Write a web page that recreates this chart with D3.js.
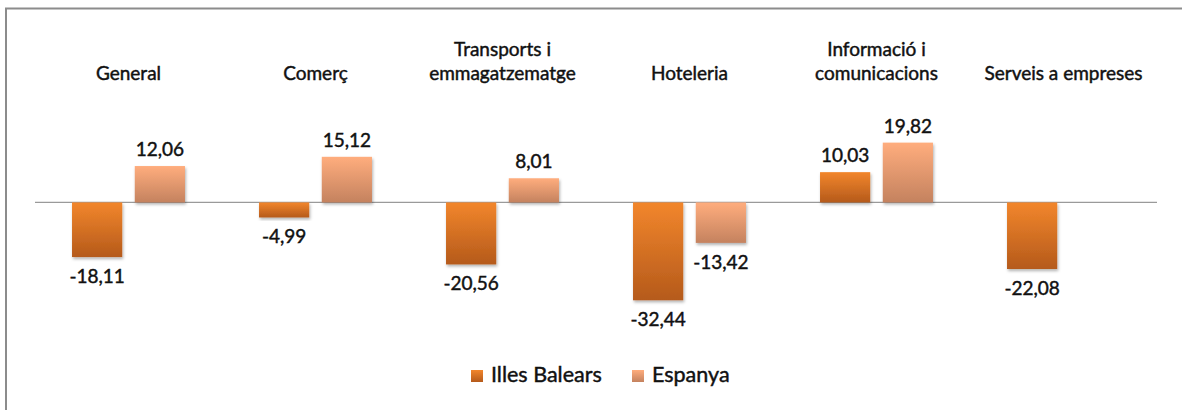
<!DOCTYPE html>
<html>
<head>
<meta charset="utf-8">
<script src="https://cdn.jsdelivr.net/npm/d3@7"></script>
<style>
  html, body { margin: 0; padding: 0; background: #fff; }
  svg { display: block; font-family: Lato, "Open Sans", sans-serif; }
  svg text { stroke: #111; stroke-width: 0.45px; }
</style>
</head>
<body>
<svg id="chart"></svg>
<script>
  // Data
  const categories = ["General", "Comerç", "Transports i emmagatzematge", "Hoteleria", "Informació i comunicacions", "Serveis a empreses"];
  const categoryLines = [["General"], ["Comerç"], ["Transports i", "emmagatzematge"], ["Hoteleria"], ["Informació i", "comunicacions"], ["Serveis a empreses"]];
  const seriesNames = ["Illes Balears", "Espanya"];
  const balearsValues = [-18.11, -4.99, -20.56, -32.44, 10.03, -22.08];
  const espanyaValues = [12.06, 15.12, 8.01, -13.42, 19.82, null];

  const width = 1182;
  const height = 410;

  const svg = d3.select("#chart")
    .attr("width", width)
    .attr("height", height);

  // gradients + shadow
  const defs = svg.append("defs");
  const gradColors = [["#f2862c", "#b55a1b"], ["#ffad7d", "#c4825f"]];
  gradColors.forEach((c, i) => {
    const g = defs.append("linearGradient")
      .attr("id", "grad" + i)
      .attr("x1", "0%").attr("x2", "0%")
      .attr("y1", "0%").attr("y2", "100%");
    g.append("stop").attr("offset", "0%").attr("stop-color", c[0]);
    g.append("stop").attr("offset", "100%").attr("stop-color", c[1]);
  });
  defs.append("filter")
    .attr("id", "shadow")
    .attr("x", "-20%").attr("y", "-20%")
    .attr("width", "140%").attr("height", "140%")
    .append("feDropShadow")
    .attr("dx", 1).attr("dy", 2)
    .attr("stdDeviation", 1.5)
    .attr("flood-color", "#000")
    .attr("flood-opacity", 0.3);

  // outer frame (runs off the page at right/bottom)
  svg.append("rect")
    .attr("x", 6).attr("y", 8.5)
    .attr("width", width + 20).attr("height", height + 20)
    .attr("fill", "none")
    .attr("stroke", "#8c8c8c")
    .attr("stroke-width", 2);

  // Scales
  const x = d3.scaleBand()
    .domain(categories)
    .range([35, 1157])
    .padding(0);

  const xInner = d3.scaleBand()
    .domain(seriesNames)
    .range([0, x.bandwidth()])
    .paddingInner(0.2)
    .paddingOuter(0.59);

  const y = d3.scaleLinear()
    .domain([-35, 25])
    .range([308, 127]);

  const rows = [];
  categories.forEach((c, i) => {
    rows.push({ cat: c, series: 0, value: balearsValues[i] });
    rows.push({ cat: c, series: 1, value: espanyaValues[i] });
  });
  const present = rows.filter(d => d.value != null);

  // zero line
  svg.append("line")
    .attr("x1", 35).attr("x2", 1157)
    .attr("y1", y(0)).attr("y2", y(0))
    .attr("stroke", "#9a9a9a")
    .attr("stroke-width", 1.2);

  // Bars
  svg.selectAll(".bar")
    .data(present)
    .join("rect")
    .attr("class", "bar")
    .attr("x", d => x(d.cat) + xInner(seriesNames[d.series]))
    .attr("y", d => y(Math.max(0, d.value)))
    .attr("width", xInner.bandwidth())
    .attr("height", d => Math.abs(y(d.value) - y(0)))
    .attr("fill", d => `url(#grad${d.series})`)
    .attr("filter", "url(#shadow)");

  // Value labels (comma decimal, plain hyphen minus)
  const fmt = v => d3.format(".2f")(v).replace(".", ",").replace("\u2212", "-");
  svg.selectAll(".val")
    .data(present)
    .join("text")
    .attr("class", "val")
    .attr("x", d => x(d.cat) + xInner(seriesNames[d.series]) + xInner.bandwidth() / 2)
    .attr("y", d => d.value >= 0 ? y(d.value) - 10 : y(d.value) + 26)
    .attr("text-anchor", "middle")
    .attr("font-size", 19)
    .attr("fill", "#111")
    .text(d => fmt(d.value));

  // Category labels (top)
  const catG = svg.selectAll(".cat")
    .data(categories)
    .join("text")
    .attr("class", "cat")
    .attr("text-anchor", "middle")
    .attr("font-size", 19)
    .attr("fill", "#111");
  catG.each(function(c, i) {
    const lines = categoryLines[i];
    const t = d3.select(this);
    lines.forEach((l, j) => {
      t.append("tspan")
        .attr("x", x(c) + x.bandwidth() / 2)
        .attr("y", 80 - (lines.length - 1 - j) * 24)
        .text(l);
    });
  });

  // Legend
  const legendItems = [{ name: seriesNames[0], sx: 471, tx: 491 }, { name: seriesNames[1], sx: 632, tx: 652 }];
  const legend = svg.append("g");
  legendItems.forEach((d, i) => {
    legend.append("rect")
      .attr("x", d.sx).attr("y", 370)
      .attr("width", 12).attr("height", 12)
      .attr("fill", `url(#grad${i})`);
    legend.append("text")
      .attr("x", d.tx).attr("y", 382)
      .attr("font-size", 21.5)
      .attr("fill", "#111")
      .text(d.name);
  });
</script>
</body>
</html>
